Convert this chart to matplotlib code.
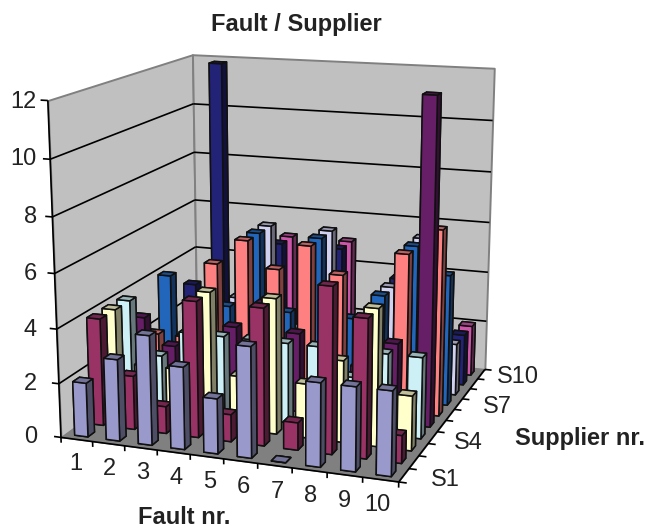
import numpy as np
import matplotlib
matplotlib.use("Agg")
import matplotlib.pyplot as plt
from mpl_toolkits.mplot3d.art3d import Poly3DCollection, Line3DCollection

plt.rcParams['font.family'] = ['Liberation Sans', 'DejaVu Sans']

W, H = 647, 528
faults = [str(i) for i in range(1, 11)]
supplier_labels = ["S1", "S4", "S7", "S10"]
value_ticks = [0, 2, 4, 6, 8, 10, 12]
series_colors = ["#9999CC", "#993366", "#FFFFCC", "#CCF0F5", "#661E66",
                 "#FF8080", "#2266BB", "#D0D0F0", "#222277", "#CC55AA"]

S1 = [2, 3, 4, 3, 2, 4, 0, 3, 3, 3]
S2 = [4, 2, 1, 5, 1, 5, 1, 6, 5, 1]
S3 = [4, 2, 2, 5, 2, 5, 2, 3, 5, 2]
S4 = [4, 2, 3, 3, 3, 3, 3, 2, 3, 3]
S5 = [3, 2, 2, 3, 4, 3, 2, 2, 3, 12]
S6 = [2, 2, 5, 6, 5, 6, 5, 3, 6, 7]
S7 = [4, 3, 3, 6, 3, 6, 3, 4, 6, 5]
S8 = [1, 2, 3, 6, 2, 6, 2, 4, 6, 2]
S9 = [3, 12, 3, 5, 3, 5, 2, 4, 3, 2]
S10 = [2, 2, 3, 5, 3, 5, 2, 2, 2, 2]
values = [S1, S2, S3, S4, S5, S6, S7, S8, S9, S10]

# camera: fit a projective camera from known box corners to pixels
world = np.array([[0, 0, 0], [0, 0, 12], [0, 10, 12], [0, 10, 0],
                  [10, 10, 12], [10, 10, 0], [10, 0, 0]], float)
pix = np.array([[61, 435.5], [48, 100.5], [192.3, 54], [197, 341],
                [494.3, 69], [485, 367], [398.5, 484]], float)

fig = plt.figure(figsize=(W / 100, H / 100), dpi=100)
ax = fig.add_axes([0, 0, 1, 1], projection="3d", computed_zorder=False)
ax.set_axis_off()
ax.apply_aspect()


def to_view(px):
    disp = np.column_stack([px[:, 0], H - px[:, 1]])
    return ax.transData.inverted().transform(disp)


view = to_view(pix)
A, b = [], []
for (X, Y, Z), (u, v) in zip(world, view):
    A.append([X, Y, Z, 1, 0, 0, 0, 0, -u * X, -u * Y, -u * Z])
    b.append(u)
    A.append([0, 0, 0, 0, X, Y, Z, 1, -v * X, -v * Y, -v * Z])
    b.append(v)
p = np.linalg.lstsq(np.array(A), np.array(b), rcond=None)[0]
row_w = np.array([p[8], p[9], p[10], 1.0])
M = np.array([p[:4], p[4:8], row_w - np.array([0, 0, 0, 0.5]), row_w])
ax.get_proj = lambda: M

GRAY = "#808080"
WALL = "#C0C0C0"


def quad(pts, face, edge, z, lw=1.0):
    ax.add_collection3d(Poly3DCollection([pts], facecolor=face, edgecolor=edge,
                                         linewidth=lw, zorder=z, clip_on=False))


def lines(segs, color="black", lw=1.1, z=2):
    ax.add_collection3d(Line3DCollection(segs, colors=color, linewidths=lw,
                                         zorder=z, clip_on=False))


quad([(0, 0, 0), (0, 10, 0), (0, 10, 12), (0, 0, 12)], WALL, GRAY, 1, 1.4)
quad([(0, 10, 0), (10, 10, 0), (10, 10, 12), (0, 10, 12)], WALL, GRAY, 1, 1.4)
quad([(0, 0, 0), (10, 0, 0), (10, 10, 0), (0, 10, 0)], GRAY, GRAY, 1, 0.5)

grid = []
for k in value_ticks[1:-1]:
    grid.append([(0, 0, k), (0, 10, k)])
    grid.append([(0, 10, k), (10, 10, k)])
lines(grid, lw=1.2)
ticks = [[(0, 0, 0), (0, 0, 12)], [(0, 0, 0), (10, 0, 0)], [(10, 0, 0), (10, 10, 0)]]
for k in value_ticks:
    ticks.append([(0, 0, k), (-0.22, 0, k)])
for i in range(11):
    ticks.append([(i, 0, 0), (i, 0, -0.2)])
    ticks.append([(10, i, 0), (10.22, i, 0)])
lines(ticks, lw=1.2)

bw, bd = 0.42, 0.42
zo = 3
for j in range(9, -1, -1):
    rgb = np.array(matplotlib.colors.to_rgb(series_colors[j]))
    faces = [rgb * 0.75, rgb * 0.75, rgb, rgb, rgb * 0.5, rgb * 0.5]
    for i in range(10):
        ax.bar3d(i + (1 - bw) / 2, j + (1 - bd) / 2, 0, bw, bd, values[j][i],
                 color=faces, edgecolor="#101010", linewidth=1.1, shade=False,
                 zorder=zo, clip_on=False)
        zo += 1


def label(x, y, s, **kw):
    fig.text(x / W, 1 - y / H, s, ha="center", va="center", color="#222222", **kw)


for k, yy in zip(value_ticks, [437, 384, 330, 274, 217, 159, 102]):
    fig.text(37 / W, 1 - yy / H, str(k), ha="right", va="center", fontsize=17, color="#222222")
for n, f in enumerate(faults):
    label(76 + n * 33.5, 464 + n * 4.6, f, fontsize=17)
for s, (x, y) in zip(supplier_labels, [(445, 480), (468, 443), (497, 407), (518, 377)]):
    label(x, y, s, fontsize=17)
label(296, 25, "Fault / Supplier", fontsize=17, fontweight="bold")
label(580, 439, "Supplier nr.", fontsize=17, fontweight="bold")
label(184, 517, "Fault nr.", fontsize=17, fontweight="bold")

fig.savefig("out.png", dpi=100)
